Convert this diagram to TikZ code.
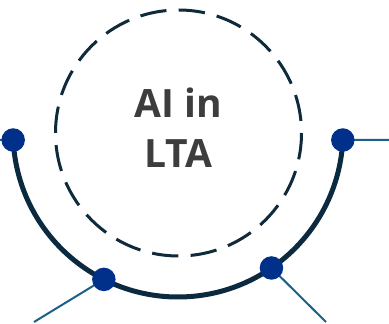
\documentclass[tikz,border=0pt]{standalone}
\usepackage{fontspec}
\setmainfont{Open Sans}
\usetikzlibrary{calc}
\definecolor{arcc}{HTML}{0B2A3F}
\definecolor{dashc}{HTML}{0E2A3B}
\definecolor{dotc}{HTML}{00308A}
\definecolor{linec}{HTML}{1B6187}
\definecolor{txtc}{HTML}{3D3D3D}
\tikzset{
  dotnode/.style={circle, fill=dotc, inner sep=0pt, minimum size=23.5pt},
  spoke/.style={linec, line width=2pt},
  title/.style={text=txtc, font=\fontsize{39}{46}\selectfont\bfseries, anchor=base, inner sep=0pt}
}
\begin{document}
\begin{tikzpicture}[x=1pt,y=1pt]
\useasboundingbox (0,0) rectangle (389,324);
\coordinate (C) at (178,192);
\coordinate (D) at (178.5,191);
\draw[dashc, line width=3pt, dash pattern=on 26.5pt off 12.15pt, dash phase=26.6pt] (D) circle[radius=123];
\draw[arcc, line width=5pt] ($(C)+(182.78:165)$) arc[start angle=182.78, end angle=357.22, radius=165];
\coordinate (e0) at (0,184);
\coordinate (e1) at (389,184);
\coordinate (e2) at (34,2);
\coordinate (e3) at (326,2);
\coordinate (p0) at ($(C)+(182.78:165)$);
\coordinate (p1) at ($(C)+(357.22:165)$);
\coordinate (p2) at ($(C)+(243.3:165)$);
\coordinate (p3) at ($(C)+(304.5:165)$);
\draw[spoke] (e0) -- (p0);
\draw[spoke] (p1) -- (e1);
\draw[spoke] (p2) -- (e2);
\draw[spoke] (p3) -- (e3);
\node[dotnode] (d0) at (p0) {};
\node[dotnode] (d1) at (p1) {};
\node[dotnode] (d2) at (p2) {};
\node[dotnode] (d3) at (p3) {};
\node[title] (t1) at (178,206) {AI in};
\node[title] (t2) at (178.5,156) {LTA};
\end{tikzpicture}
\end{document}
